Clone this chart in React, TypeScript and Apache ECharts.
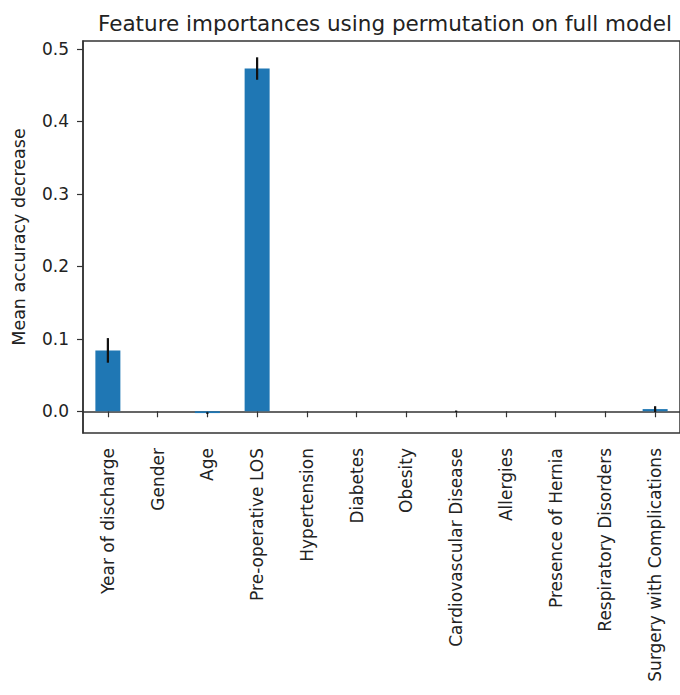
import React, { useEffect, useRef } from "react";
import * as echarts from "echarts";

// Permutation importances (mean decrease in accuracy) with their standard deviations
const features = [
  "Year of discharge",
  "Gender",
  "Age",
  "Pre-operative LOS",
  "Hypertension",
  "Diabetes",
  "Obesity",
  "Cardiovascular Disease",
  "Allergies",
  "Presence of Hernia",
  "Respiratory Disorders",
  "Surgery with Complications",
];
const importances = [0.084, 0, -0.0025, 0.473, 0, 0, 0, 0, 0, 0, 0, 0.003];
const stdDevs = [0.017, 0, 0.0012, 0.0155, 0, 0, 0, 0.001, 0, 0, 0, 0.004];
const yTicks = [0, 0.1, 0.2, 0.3, 0.4, 0.5];

const FONT = "DejaVu Sans";
const INK = "#222";

export default function App() {
  const ref = useRef<HTMLDivElement>(null);

  useEffect(() => {
    if (!ref.current) return;
    const chart = echarts.init(ref.current, null, { renderer: "svg" });

    const errData = importances.map((v, i) => [i, v, stdDevs[i]]);

    chart.setOption({
      animation: false,
      backgroundColor: "#fff",
      graphic: [
        {
          type: "text",
          x: 385,
          y: 23,
          style: {
            text: "Feature importances using permutation on full model",
            font: `21.5px ${FONT}`,
            fill: INK,
            textAlign: "center",
            textVerticalAlign: "middle",
          },
        },
      ],
      grid: {
        left: 83,
        right: -7,
        top: 41,
        bottom: 262,
        show: true,
        borderColor: "#333",
        borderWidth: 1.5,
      },
      xAxis: {
        type: "category",
        data: features,
        boundaryGap: true,
        axisLine: { show: true, lineStyle: { color: "#333", width: 1.5 } },
        axisTick: {
          show: true,
          alignWithLabel: true,
          length: 6,
          lineStyle: { color: "#333", width: 1.2 },
        },
        axisLabel: {
          rotate: 90,
          margin: 15,
          interval: 0,
          fontFamily: FONT,
          fontSize: 17,
          color: INK,
        },
      },
      yAxis: {
        type: "value",
        min: -0.03,
        max: 0.511,
        name: "Mean accuracy decrease",
        nameLocation: "middle",
        nameGap: 55,
        nameTextStyle: { fontFamily: FONT, fontSize: 17.5, color: INK },
        splitLine: { show: false },
        axisLine: { show: true, lineStyle: { color: "#333", width: 1.5 } },
        axisTick: {
          show: true,
          length: 6,
          customValues: yTicks,
          lineStyle: { color: "#333", width: 1.2 },
        },
        axisLabel: {
          customValues: yTicks,
          margin: 14,
          fontFamily: FONT,
          fontSize: 17,
          color: INK,
          formatter: (v: number) => v.toFixed(1),
        },
      },
      series: [
        {
          type: "bar",
          data: importances,
          barWidth: 25,
          itemStyle: { color: "#1f77b4" },
        },
        {
          type: "custom",
          data: errData,
          z: 10,
          renderItem: (params: any, api: any) => {
            const idx = api.value(0);
            const mean = api.value(1);
            const sd = api.value(2);
            if (!sd) return null;
            const hi = api.coord([idx, mean + sd]);
            const lo = api.coord([idx, mean - sd]);
            return {
              type: "line",
              shape: { x1: hi[0], y1: hi[1], x2: lo[0], y2: lo[1] },
              style: { stroke: "#111", lineWidth: 2.2 },
            };
          },
        },
      ],
    });

    return () => chart.dispose();
  }, []);

  return (
    <div
      ref={ref}
      style={{ position: "absolute", left: 0, top: 0, width: 680, height: 695 }}
    />
  );
}
